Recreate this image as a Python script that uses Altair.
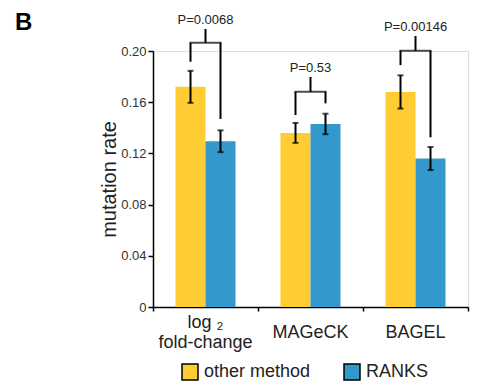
import altair as alt
import pandas as pd

methods = ["log2", "MAGeCK", "BAGEL"]
method_labels = ["log \u2082\nfold-change", "MAGeCK", "BAGEL"]
series_names = ["other method", "RANKS"]
other_vals = [0.172, 0.136, 0.168]
other_err = [0.0125, 0.0078, 0.013]
ranks_vals = [0.1295, 0.143, 0.116]
ranks_err = [0.0085, 0.008, 0.009]

p_labels = ["P=0.0068", "P=0.53", "P=0.00146"]
bracket_left = [0.1916, 0.150, 0.189]
bracket_right = [0.1469, 0.1591, 0.1326]
bracket_bar = [0.2065, 0.1682, 0.2002]
bracket_top = [0.2172, 0.1797, 0.2117]

panel_label = ["B"]

colors = ["#FFCC33", "#3399CC"]
FONT = "Liberation Sans"

rows = []
for i, m in enumerate(methods):
    rows.append({"method": m, "series": series_names[0], "value": other_vals[i],
                 "lo": other_vals[i] - other_err[i], "hi": other_vals[i] + other_err[i],
                 "leg": bracket_left[i], "bar": bracket_bar[i]})
    rows.append({"method": m, "series": series_names[1], "value": ranks_vals[i],
                 "lo": ranks_vals[i] - ranks_err[i], "hi": ranks_vals[i] + ranks_err[i],
                 "leg": bracket_right[i], "bar": bracket_bar[i]})
df = pd.DataFrame(rows)

pdf = pd.DataFrame({"method": methods, "label": p_labels, "bar": bracket_bar, "top": bracket_top})
ldf = pd.DataFrame({"method": methods, "label": method_labels,
                    "lines": [len(s.split("\n")) for s in method_labels]})

x_enc = alt.X("method:N", sort=methods,
              scale=alt.Scale(paddingInner=0, paddingOuter=0),
              axis=alt.Axis(title=None, labels=False, tickBand="extent",
                            domainColor="black", domainWidth=1.5,
                            tickColor="black", tickWidth=1.5, tickSize=4))
xo_enc = alt.XOffset("series:N", sort=series_names,
                     scale=alt.Scale(paddingInner=0, paddingOuter=0.75))
y_scale = alt.Scale(domain=[0, 0.2], nice=False, zero=True)

bars = alt.Chart(df).mark_bar().encode(
    x=x_enc,
    xOffset=xo_enc,
    y=alt.Y("value:Q", scale=y_scale,
            axis=alt.Axis(title="mutation rate", values=[0, 0.04, 0.08, 0.12, 0.16, 0.2],
                          labelExpr="datum.value == 0 ? '0' : format(datum.value, '.2f')",
                          grid=False, labelFont=FONT, labelFontSize=13, labelColor="#333333",
                          titleFont=FONT, titleFontSize=20, titleFontWeight="normal",
                          titleColor="#222222", titlePadding=1,
                          domainColor="black", domainWidth=1.5,
                          tickColor="black", tickWidth=1.5, tickSize=5)),
    color=alt.Color("series:N", sort=series_names,
                    scale=alt.Scale(domain=series_names, range=colors),
                    legend=alt.Legend(orient="none", legendX=28, legendY=312,
                                      direction="horizontal", title=None,
                                      symbolType="square", symbolSize=256,
                                      symbolStrokeColor="black", symbolStrokeWidth=1.5,
                                      symbolOpacity=1,
                                      labelFont=FONT, labelFontSize=18, labelColor="#222222",
                                      labelOffset=5, columnPadding=30, padding=0)),
)

err = alt.Chart(df).mark_rule(color="black", strokeWidth=2).encode(
    x=alt.X("method:N", sort=methods), xOffset=xo_enc,
    y=alt.Y("lo:Q", scale=y_scale), y2="hi:Q")
cap_lo = alt.Chart(df).mark_tick(color="black", thickness=2, size=6, orient="horizontal").encode(
    x=alt.X("method:N", sort=methods), xOffset=xo_enc, y=alt.Y("lo:Q", scale=y_scale))
cap_hi = alt.Chart(df).mark_tick(color="black", thickness=2, size=6, orient="horizontal").encode(
    x=alt.X("method:N", sort=methods), xOffset=xo_enc, y=alt.Y("hi:Q", scale=y_scale))

legs = alt.Chart(df).mark_rule(color="black", strokeWidth=2).encode(
    x=alt.X("method:N", sort=methods), xOffset=xo_enc,
    y=alt.Y("leg:Q", scale=y_scale), y2="bar:Q")
hbar = alt.Chart(pdf).mark_tick(color="black", thickness=2, size=32, orient="horizontal").encode(
    x=alt.X("method:N", sort=methods), y=alt.Y("bar:Q", scale=y_scale))
stem = alt.Chart(pdf).mark_rule(color="black", strokeWidth=2).encode(
    x=alt.X("method:N", sort=methods), y=alt.Y("bar:Q", scale=y_scale), y2="top:Q")
ptext = alt.Chart(pdf).mark_text(font=FONT, fontSize=13, color="#222222",
                                 baseline="alphabetic", dy=-5).encode(
    x=alt.X("method:N", sort=methods), y=alt.Y("top:Q", scale=y_scale), text="label:N")

xlab_single = alt.Chart(ldf).transform_filter("datum.lines == 1").mark_text(
    font=FONT, fontSize=18, color="#222222", baseline="alphabetic").encode(
    x=alt.X("method:N", sort=methods), y=alt.value(287), text="label:N")
xlab_multi = alt.Chart(ldf).transform_filter("datum.lines > 1").mark_text(
    font=FONT, fontSize=18, color="#222222", baseline="alphabetic",
    lineBreak="\n", lineHeight=20).encode(
    x=alt.X("method:N", sort=methods), y=alt.value(277), text="label:N")

btext = alt.Chart(pd.DataFrame({"t": panel_label})).mark_text(
    font=FONT, fontSize=24, fontWeight="bold", color="black",
    align="left", baseline="alphabetic").encode(
    x=alt.value(-138), y=alt.value(-21), text="t:N")

chart = alt.layer(bars, err, cap_lo, cap_hi, legs, hbar, stem, ptext,
                  xlab_single, xlab_multi, btext).properties(
    width=315, height=256,
    padding={"left": 153, "top": 51, "right": 9, "bottom": 82},
    autosize=alt.AutoSizeParams(type="none"),
).configure_view(stroke=None).configure(background="white")

chart.save("out.html", embed_options={"renderer": "svg", "actions": False})
